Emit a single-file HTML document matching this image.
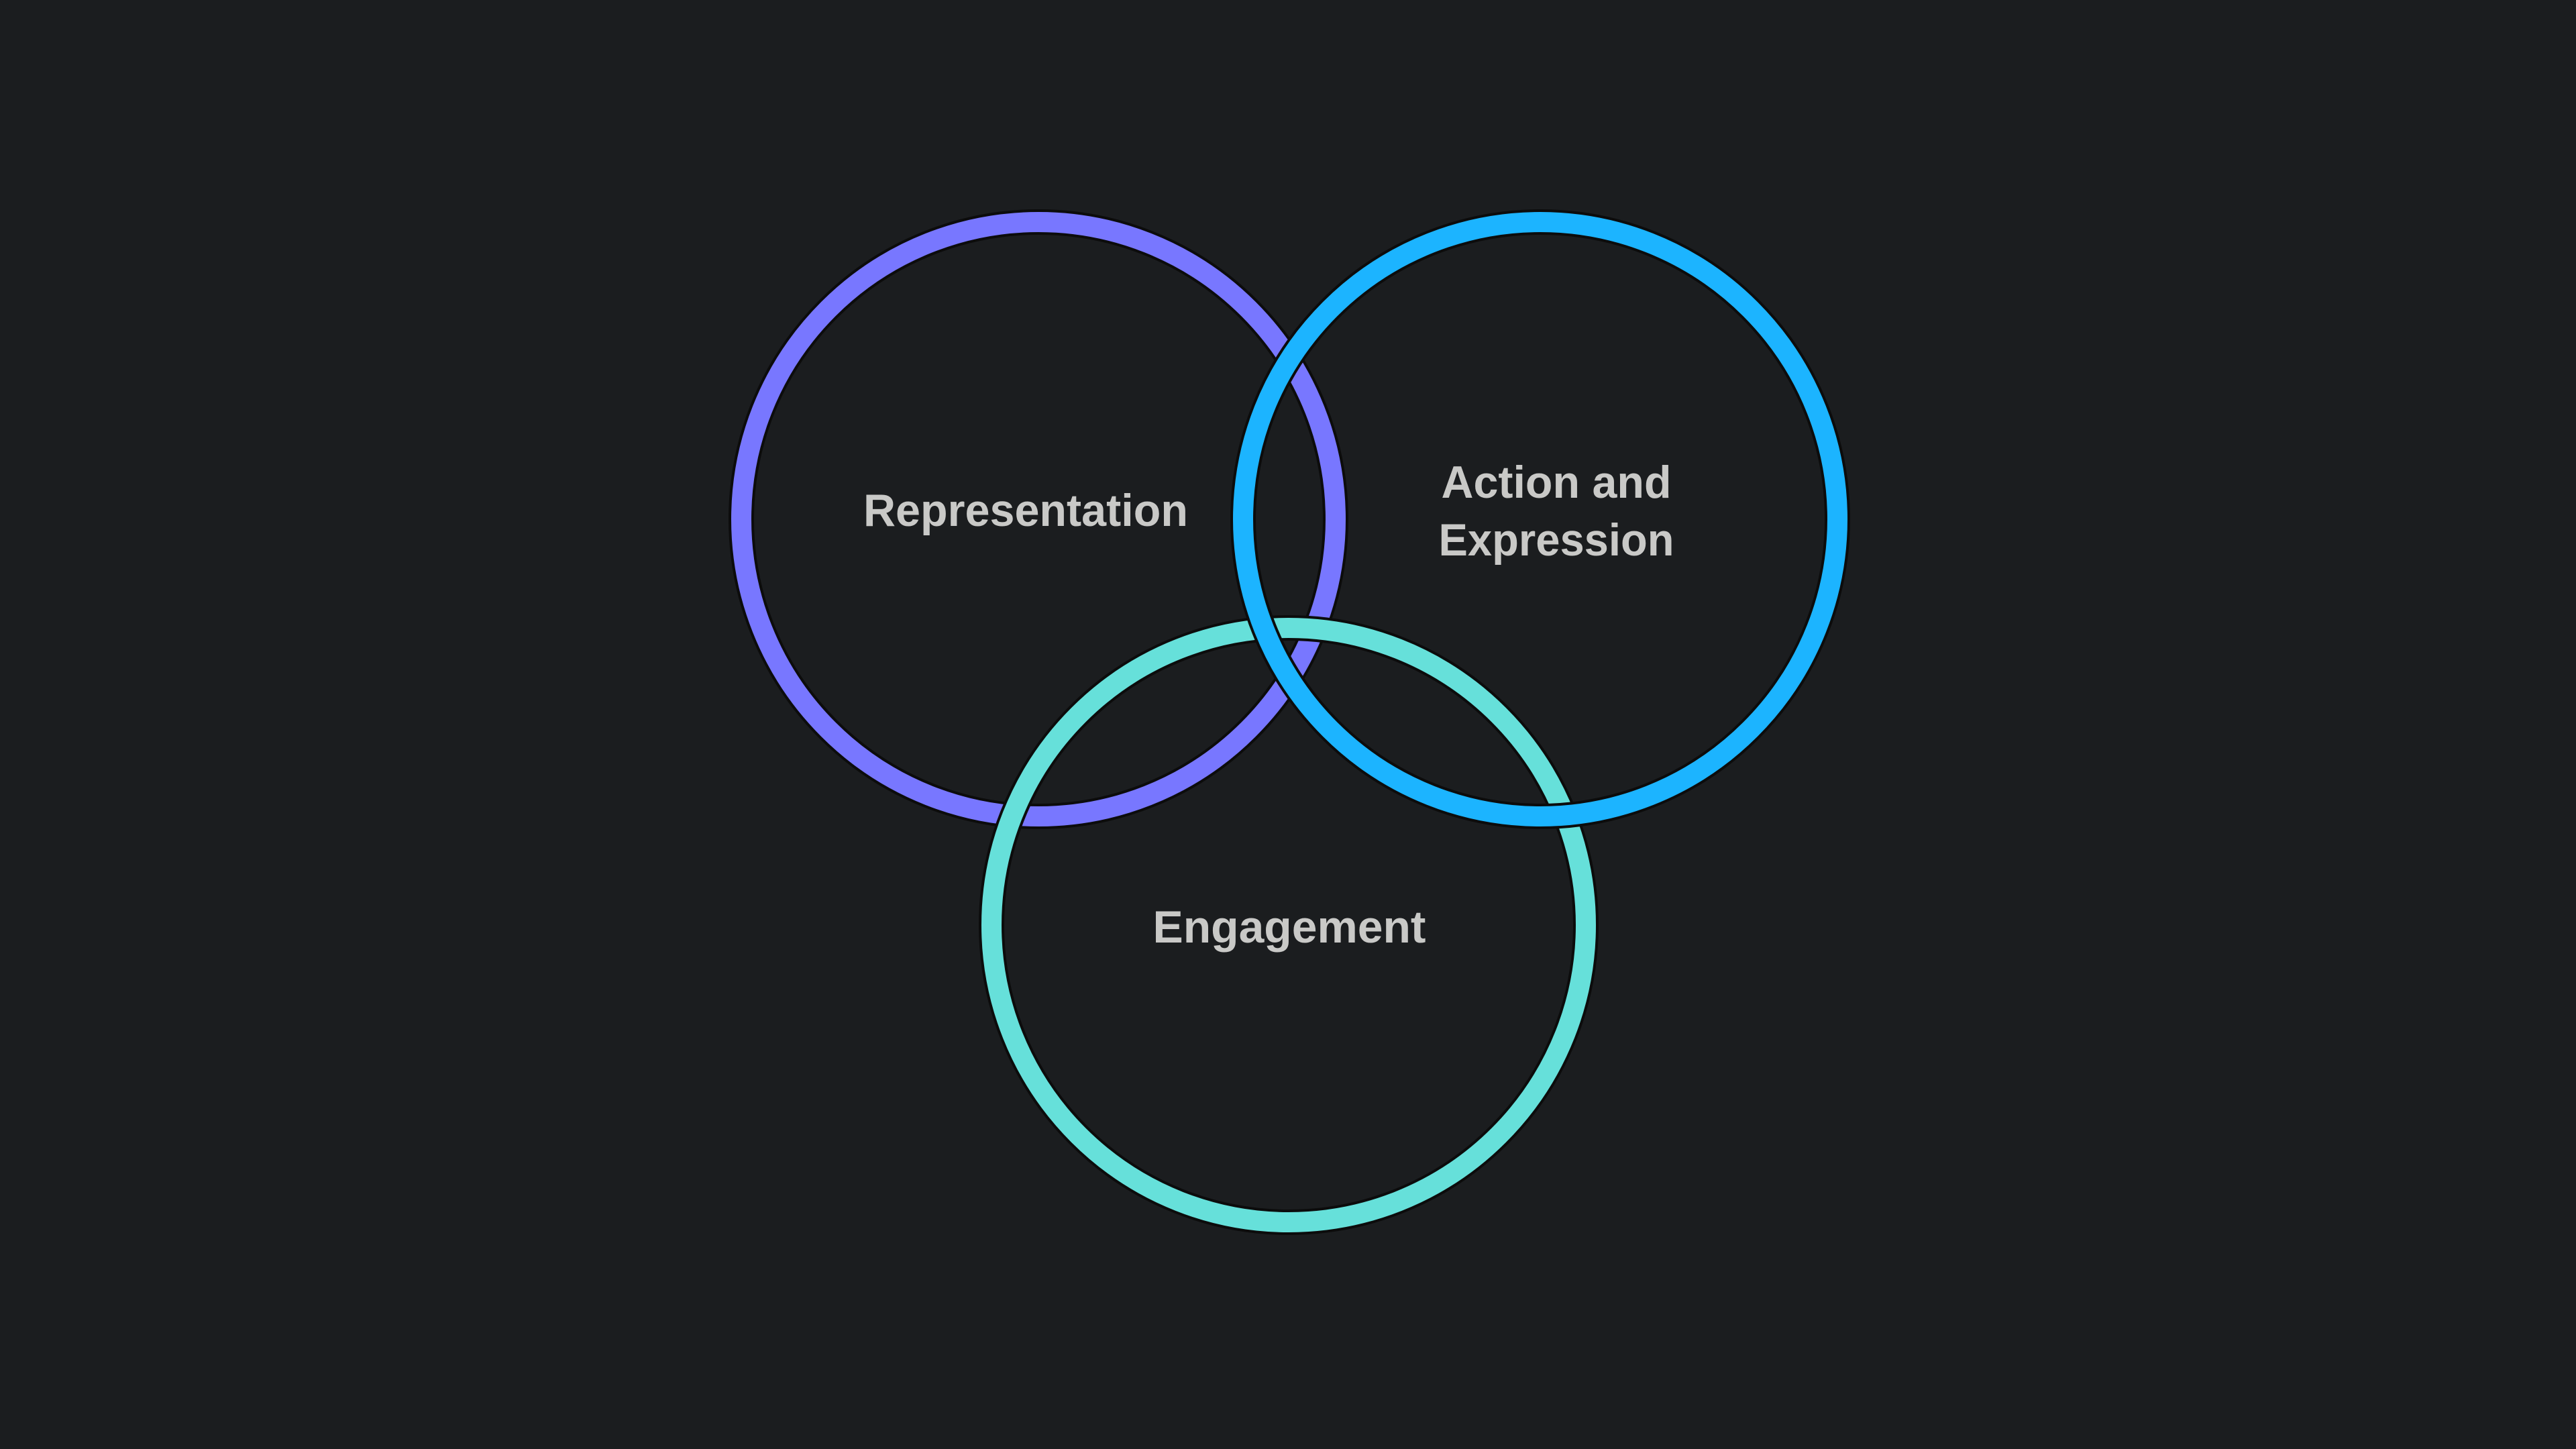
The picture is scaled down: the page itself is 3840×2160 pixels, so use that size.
<!DOCTYPE html>
<html><head><meta charset="utf-8"><style>
html,body{margin:0;padding:0;background:#1b1d1f;}
svg{display:block}
text{font-family:"Liberation Sans",sans-serif;font-size:68px;font-weight:bold;fill:#c9c9c7;text-anchor:middle;}
</style></head><body>
<svg width="3840" height="2160" viewBox="0 0 3840 2160" xmlns="http://www.w3.org/2000/svg">
<rect width="3840" height="2160" fill="#1b1d1f"/>
<g fill="none">
<circle cx="1548" cy="774" r="443" stroke="#0c0c0c" stroke-width="38"/>
<circle cx="1548" cy="774" r="443" stroke="#7877ff" stroke-width="30"/>
<circle cx="1921" cy="1379" r="443" stroke="#0c0c0c" stroke-width="38"/>
<circle cx="1921" cy="1379" r="443" stroke="#66e0da" stroke-width="30"/>
<circle cx="2296" cy="774" r="443" stroke="#0c0c0c" stroke-width="38"/>
<circle cx="2296" cy="774" r="443" stroke="#1cb4ff" stroke-width="30"/>
</g>
<text x="1529" y="784" textLength="484" lengthAdjust="spacingAndGlyphs">Representation</text>
<text x="2320" y="742" textLength="343" lengthAdjust="spacingAndGlyphs">Action and</text>
<text x="2320" y="828" textLength="351" lengthAdjust="spacingAndGlyphs">Expression</text>
<text x="1922" y="1405" textLength="407" lengthAdjust="spacingAndGlyphs">Engagement</text>
</svg>
</body></html>
